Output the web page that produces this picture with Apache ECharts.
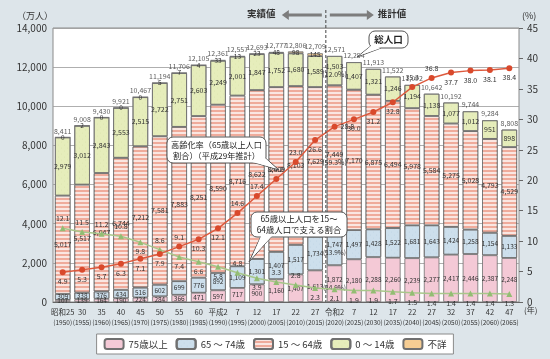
<!DOCTYPE html>
<html><head><meta charset="utf-8">
<script src="https://cdn.jsdelivr.net/npm/echarts@6/dist/echarts.min.js"></script>
<style>html,body{margin:0;padding:0;background:#dde5ea;}#c{width:550px;height:359px;}</style>
</head><body><div id="c"></div>
<script>
const eras = ['昭和25','30','35','40','45','50','55','60','平成2','7','12','17','22','27','令和2','7','12','17','22','27','32','37','42','47'];
const years = ['1950','1955','1960','1965','1970','1975','1980','1985','1990','1995','2000','2005','2010','2015','2020','2025','2030','2035','2040','2045','2050','2055','2060','2065'];
const total = [8411,9008,9430,9921,10467,11194,11706,12105,12361,12557,12693,12777,12806,12709,12571,12254,11913,11522,11092,10642,10192,9744,9284,8808];
const age75plus = [107,139,164,190,224,284,366,471,597,717,900,1160,1407,1613,1872,2180,2288,2260,2239,2277,2417,2446,2387,2248];
const age65to74 = [309,338,376,434,516,602,699,776,892,1109,1301,1407,1517,1734,1747,1497,1428,1522,1681,1643,1424,1258,1154,1133];
const age15to64 = [5017,5517,6047,6744,7212,7581,7883,8251,8590,8716,8622,8409,8103,7629,7449,7170,6875,6494,5978,5584,5275,5028,4793,4529];
const age0to14 = [2979,3012,2843,2553,2515,2722,2751,2603,2249,2001,1847,1752,1680,1589,1503,1407,1321,1246,1194,1138,1077,1012,951,898];
const unknownAge = [0,2,0,0,0,5,7,4,33,13,23,48,98,145,null,null,null,null,null,null,null,null,null,null];
const agingRate = [4.9,5.3,5.7,6.3,7.1,7.9,9.1,10.3,12.1,14.6,17.4,20.2,23.0,26.6,28.8,30.0,31.2,32.8,35.3,36.8,37.7,38.0,38.1,38.4];
const supportRatio = [12.1,11.5,11.2,10.8,9.8,8.6,7.4,6.6,5.8,4.8,3.9,3.3,2.8,2.3,2.1,1.9,1.9,1.7,1.5,1.4,1.4,1.4,1.4,1.3];
const seriesNames = ['75歳以上','65 ～ 74歳','15 ～ 64歳','0 ～ 14歳','不詳'];
// shares shown for 令和2 (2020), in series order
const share2020 = [14.9,13.9,59.3,12.0,null];

// style-only arrays (label placement)
const redPos = ['bottom','bottom','bottom','bottom','bottom','bottom','top','bottom','bottom','top','top','top','top','bottom','right','bottom','bottom','bottom','top','top','bottom','bottom','bottom','bottom'];
const greenPos = ['top','top','top','top','bottom','top','bottom','bottom','bottom','top','bottom','top','top','bottom','bottom','bottom','bottom','bottom','bottom','bottom','bottom','bottom','bottom','bottom'];

const FONT = '"Noto Sans CJK JP", "Noto Sans", sans-serif';
const fmt = v => (v == null ? '' : Number(v).toLocaleString('en-US'));
const chart = echarts.init(document.getElementById('c'), null, {renderer:'canvas'});

const colors = ['#f4c9d6','#cddfec','#efab9b','#e6edbb','#f6cd93'];
const decals = [
  null,
  {symbol:'circle', symbolSize:0.35, dashArrayX:[[3,3],[0,3,3,0]], dashArrayY:[2,1], color:'rgba(120,160,200,0.45)'},
  {symbol:'rect', symbolSize:1, dashArrayX:[1,0], dashArrayY:[1.3,1.7], rotation:0, color:'rgba(255,255,255,0.7)'},
  {symbol:'circle', symbolSize:0.35, dashArrayX:[[3,3],[0,3,3,0]], dashArrayY:[2,1], color:'rgba(170,190,110,0.5)'},
  null
];
const dataSets = [age75plus, age65to74, age15to64, age0to14, unknownAge];

const barSeries = seriesNames.map((name, si) => ({
  name, type:'bar', stack:'pop', barWidth:'80%', z:2,
  itemStyle:{color:colors[si], borderColor:'#707070', borderWidth:0.8, decal:decals[si] || undefined},
  label:{
    show:true, position:'inside',
    fontSize: si<2 || si===4 ? 6.5 : 7, color:'#333', fontFamily:FONT, lineHeight:8,
    formatter: p => {
      if (p.value == null) return '';
      if (p.dataIndex === 14 && share2020[si] != null) return fmt(p.value) + '\n(' + share2020[si].toFixed(1) + '%)';
      return fmt(p.value);
    }
  },
  emphasis:{disabled:true},
  data: dataSets[si]
}));

const option = {
  backgroundColor:'#dde5ea',
  animation:false,
  textStyle:{fontFamily:FONT},
  grid:{left:53, right:31, top:28, bottom:57, show:true, backgroundColor:'#ffffff', borderColor:'#8a8a8a', borderWidth:1},
  legend:{
    data:seriesNames, top:334, left:'center', itemWidth:19, itemHeight:10, itemGap:8,
    backgroundColor:'#ffffff', borderColor:'#8a8a8a', borderWidth:1, padding:[4,7],
    textStyle:{fontSize:9.5, color:'#333', fontFamily:FONT}, selectedMode:false
  },
  xAxis:{
    type:'category', data: eras.map((e,i)=> e + '\n(' + years[i] + ')'),
    axisLine:{lineStyle:{color:'#666'}}, axisTick:{show:false},
    axisLabel:{interval:0, margin:5, fontFamily:FONT,
      formatter:(v)=>{const parts=v.split('\n'); return '{a|'+parts[0]+'}\n{b|'+parts[1]+'}';},
      rich:{a:{fontSize:7.5, color:'#333', lineHeight:11, fontFamily:FONT}, b:{fontSize:6.5, color:'#333', lineHeight:10, fontFamily:FONT}}}
  },
  yAxis:[
    {type:'value', min:0, max:14000, interval:2000,
     axisLabel:{fontSize:10, color:'#333', formatter:v=>fmt(v), margin:6, fontFamily:FONT},
     splitLine:{lineStyle:{color:'#9a9a9a', width:0.8}}, axisLine:{show:false}, axisTick:{show:false}},
    {type:'value', min:0, max:45, interval:5, position:'right',
     axisLabel:{fontSize:10, color:'#333', margin:8, fontFamily:FONT},
     splitLine:{show:false}, axisLine:{show:false}, axisTick:{show:true, length:4, inside:false, lineStyle:{color:'#666'}}}
  ],
  series: barSeries.concat([
    {name:'総人口', type:'scatter', symbolSize:0, z:3, data: total,
     label:{show:true, position:'top', distance:3, fontSize:7, color:'#333', formatter:p=>fmt(p.value), fontFamily:FONT}},
    {name:'支える割合', type:'line', yAxisIndex:1, z:5, symbol:'triangle', symbolSize:6,
     lineStyle:{color:'#a8c78a', width:1.5}, itemStyle:{color:'#93bd73'},
     label:{show:true, fontSize:7, color:'#333', distance:3, fontFamily:FONT, formatter:p=>p.value.toFixed(1)},
     data: supportRatio.map((v,i)=>({value:v, label:{position:greenPos[i]}}))},
    {name:'高齢化率', type:'line', yAxisIndex:1, z:6, symbol:'circle', symbolSize:6,
     lineStyle:{color:'#dd5a3e', width:1.5}, itemStyle:{color:'#d9492c'},
     label:{show:true, fontSize:7, color:'#333', distance:3, fontFamily:FONT, formatter:p=>p.value.toFixed(1)},
     data: agingRate.map((v,i)=>({value:v, label:{position:redPos[i]}}))}
  ])
};
chart.setOption(option);

// annotations
const xa = chart.convertToPixel({xAxisIndex:0}, 13);
const xb = chart.convertToPixel({xAxisIndex:0}, 14);
const xSep = (xa + xb) / 2 + 1;
const yBot = chart.convertToPixel({yAxisIndex:0}, 0);
const boxStyle = {fill:'#fff', stroke:'#555', lineWidth:1};
const txt = {fill:'#222', fontFamily:FONT};
function callout(x, y, w, h, tail, text, fs, bold){
  return [
    {type:'polygon', z:40, shape:{points:tail}, style:{fill:'#fff', stroke:'#555', lineWidth:1}},
    {type:'rect', z:41, shape:{x, y, width:w, height:h, r:6}, style:boxStyle},
    {type:'polygon', z:42, shape:{points:[tail[0], tail[1], tail[2]].map((p,i)=> i===1 ? [p[0]+(tail[0][0]+tail[2][0]-2*p[0])*0.08, p[1]+(tail[0][1]+tail[2][1]-2*p[1])*0.08] : p)}, style:{fill:'#fff'}},
    {type:'text', z:43, x:x+w/2, y:y+h/2, style:Object.assign({}, txt, {text, fontSize:fs, lineHeight:11, align:'center', verticalAlign:'middle', fontWeight:bold?'bold':'normal'})}
  ];
}
const g = [
  {type:'line', z:20, shape:{x1:xSep, y1:10, x2:xSep, y2:yBot}, style:{stroke:'#444', lineWidth:1, lineDash:[3,2]}},
  {type:'text', z:20, left:247, top:9, style:{text:'実績値', fontSize:9.5, fontWeight:'bold', fill:'#333', fontFamily:FONT}},
  {type:'polygon', z:20, shape:{points:[[xSep-44,15],[xSep-37,10],[xSep-37,13.5],[xSep-4,13.5],[xSep-4,16.5],[xSep-37,16.5],[xSep-37,20]]}, style:{fill:'#7d7d7d'}},
  {type:'polygon', z:20, shape:{points:[[xSep+48,15],[xSep+41,10],[xSep+41,13.5],[xSep+4,13.5],[xSep+4,16.5],[xSep+41,16.5],[xSep+41,20]]}, style:{fill:'#7d7d7d'}},
  {type:'text', z:20, left:xSep+52, top:9, style:{text:'推計値', fontSize:9.5, fontWeight:'bold', fill:'#333', fontFamily:FONT}},
  {type:'text', z:20, left:17, top:11, style:{text:'（万人）', fontSize:9, fill:'#333', fontFamily:FONT}},
  {type:'text', z:20, left:522, top:11, style:{text:'(%)', fontSize:9, fill:'#333', fontFamily:FONT}},
  {type:'text', z:20, left:524, top:306, style:{text:'(年)', fontSize:8, fill:'#333', fontFamily:FONT}}
].concat(
  callout(369, 31, 39, 17, [[372,45],[357,57],[381,48]], '総人口', 9.5, true),
  callout(167, 137, 99, 26, [[252,162],[279,170],[262,155]], '高齢化率（65歳以上人口\n割合）（平成29年推計）', 8.2, false),
  callout(251, 212, 96, 25, [[261,236],[249,262],[272,236]], '65歳以上人口を15～\n64歳人口で支える割合', 8.4, false)
);
chart.setOption({graphic:g});
</script>
</body></html>
